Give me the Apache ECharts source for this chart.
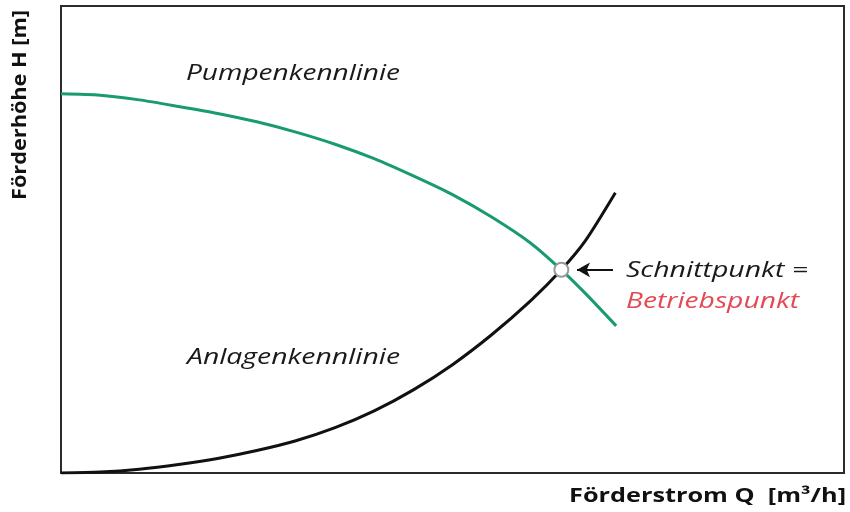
<!DOCTYPE html>
<html>
<head>
<meta charset="utf-8">
<script src="https://cdn.jsdelivr.net/npm/echarts@6/dist/echarts.min.js"></script>
<style>
  html, body { margin: 0; padding: 0; background: #fff; }
  #main { width: 850px; height: 512px; }
</style>
</head>
<body>
<div id="main"></div>
<script>
// Kennlinien (Q und H in % des Diagrammbereichs)
var pumpeQ = [0, 5, 10, 15, 20, 25, 30, 35, 40, 45, 50, 55, 60, 63.9, 67, 70.9];
var pumpeH = [81.2, 80.9, 79.9, 78.5, 77.0, 75.2, 73.0, 70.4, 67.3, 63.6, 59.6, 54.8, 49.2, 43.5, 38.4, 31.5];

var anlageQ = [0, 5, 10, 15, 20, 25, 30, 35, 40, 45, 50, 55, 60, 63.9, 67, 70.8];
var anlageH = [0, 0.2, 0.8, 1.8, 3.1, 4.8, 6.9, 9.7, 13.3, 17.8, 23.2, 29.6, 36.9, 43.5, 49.8, 60.0];

var betriebspunkt = [63.9, 43.5];
var pfeilQ = [65.9, 70.5];

function zip(xs, ys) {
	return xs.map(function (x, i) { return [x, ys[i]]; });
}

// Schrift in der Breite an die Vorlage anpassen
var ctx = document.createElement('canvas').getContext('2d');
function fit(text, font, width) {
	ctx.font = font;
	return width / ctx.measureText(text).width;
}

function txt(text, font, x, y, width, fill, extra) {
	var el = {
		type: 'text', x: x, y: y,
		scaleX: fit(text, font, width),
		style: { text: text, font: font, fill: fill, textVerticalAlign: 'middle' }
	};
	for (var k in extra) el[k] = extra[k];
	return el;
}

var kursiv = 'italic 22px "Open Sans"';
var fett = 'bold 19px "Open Sans"';

var myChart = echarts.init(document.getElementById('main'));

var option = {
	animation: false,
	grid: {
		left: 61, top: 6, right: 6, bottom: 39,
		show: true,
		borderColor: '#2b2b2b',
		borderWidth: 2
	},
	xAxis: {
		type: 'value', min: 0, max: 100,
		axisLine: { show: false }, axisTick: { show: false },
		axisLabel: { show: false }, splitLine: { show: false }
	},
	yAxis: {
		type: 'value', min: 0, max: 100,
		axisLine: { show: false }, axisTick: { show: false },
		axisLabel: { show: false }, splitLine: { show: false }
	},
	series: [
		{
			name: 'Pumpenkennlinie',
			type: 'line',
			data: zip(pumpeQ, pumpeH),
			smooth: 0.25,
			showSymbol: false,
			lineStyle: { color: '#189a72', width: 3 }
		},
		{
			name: 'Anlagenkennlinie',
			type: 'line',
			data: zip(anlageQ, anlageH),
			smooth: 0.25,
			showSymbol: false,
			lineStyle: { color: '#111', width: 3 }
		},
		{
			name: 'Betriebspunkt',
			type: 'scatter',
			data: [betriebspunkt],
			symbol: 'circle',
			symbolSize: 14,
			itemStyle: { color: '#fff', borderColor: '#999', borderWidth: 2, opacity: 1 },
			z: 5,
			markLine: {
				silent: true,
				symbol: ['arrow', 'none'],
				symbolSize: [11, 13],
				label: { show: false },
				lineStyle: { color: '#111', width: 2, type: 'solid' },
				data: [[
					{ coord: [pfeilQ[0], betriebspunkt[1]] },
					{ coord: [pfeilQ[1], betriebspunkt[1]] }
				]]
			}
		}
	],
	graphic: [
		txt('Pumpenkennlinie', kursiv, 186, 74, 214, '#1a1a1a'),
		txt('Anlagenkennlinie', kursiv, 187, 358, 213, '#1a1a1a'),
		txt('Schnittpunkt =', kursiv, 626, 271, 182, '#1a1a1a'),
		txt('Betriebspunkt', kursiv, 626, 302, 173, '#e24a55'),
		txt('Förderstrom Q  [m³/h]', fett, 569, 497, 277, '#111'),
		txt('Förderhöhe H [m]', fett, 21, 200, 190, '#111', { rotation: Math.PI / 2 })
	]
};

myChart.setOption(option);
</script>
</body>
</html>
